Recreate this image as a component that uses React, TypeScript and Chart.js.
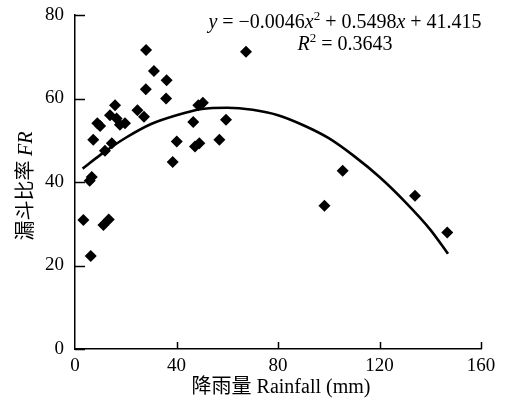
import React, { useEffect, useRef } from "react";
import { Chart, registerables } from "chart.js";

Chart.register(...registerables);

// Observed points: rainfall (mm) vs funnel ratio FR
const rainfall = [3.3, 6.2, 5.8, 6.6, 7.2, 8.8, 9.9, 11.2, 13.3, 11.8, 14.5, 13.8, 15.8, 16.4, 17.7, 19.7, 24.6, 27.2, 27.9, 28.0, 31.1, 35.9, 36.1, 38.5, 40.1, 46.6, 47.3, 49.0, 48.6, 50.4, 56.9, 59.5, 67.4, 98.3, 105.5, 134.0, 146.7];
const fr = [30.9, 22.3, 40.3, 41.2, 50.1, 54.1, 53.4, 29.7, 31.0, 47.5, 49.3, 56.0, 58.4, 55.2, 53.7, 54.1, 57.2, 55.6, 62.2, 71.6, 66.6, 60.0, 64.4, 44.8, 49.7, 54.4, 48.5, 49.3, 58.4, 59.0, 50.1, 54.9, 71.2, 34.3, 42.7, 36.7, 27.9];

// Trend curve
const trendX = [3, 10, 20, 30, 40, 50, 60, 70, 80, 90, 100, 110, 120, 130, 140, 147];
const trendY = [43.2, 46.5, 50.6, 53.9, 56.0, 57.5, 57.8, 57.3, 56.0, 53.6, 50.5, 46.2, 41.2, 35.3, 28.6, 22.8];

const xTicks = [0, 40, 80, 120, 160];
const yTicks = [0, 20, 40, 60, 80];

const xTitleCn = "降雨量";
const xTitleEn = " Rainfall (mm)";
const yTitleCn = "漏斗比率 ";
const yTitleEn = "FR";

const SERIF = '"Liberation Serif", "Times New Roman", serif';
const CJK = '"Noto Sans CJK SC", sans-serif';

type Seg = { t: string; italic?: boolean; sup?: boolean; cjk?: boolean };

const eqLine1: Seg[] = [
  { t: "y", italic: true },
  { t: " = −0.0046" },
  { t: "x", italic: true },
  { t: "2", sup: true },
  { t: " + 0.5498" },
  { t: "x", italic: true },
  { t: " + 41.415" },
];
const eqLine2: Seg[] = [
  { t: "R", italic: true },
  { t: "2", sup: true },
  { t: " = 0.3643" },
];

function segFont(s: Seg, size: number) {
  const sz = s.sup ? Math.round(size * 0.65) : size;
  if (s.cjk) return `${sz}px ${CJK}`;
  return `${s.italic ? "italic " : ""}${sz}px ${SERIF}`;
}

function drawSegs(ctx: CanvasRenderingContext2D, segs: Seg[], cx: number, baseline: number, size: number) {
  let total = 0;
  const widths = segs.map((s) => {
    ctx.font = segFont(s, size);
    const w = ctx.measureText(s.t).width;
    total += w;
    return w;
  });
  let x = cx - total / 2;
  segs.forEach((s, i) => {
    ctx.font = segFont(s, size);
    ctx.fillText(s.t, x, s.sup ? baseline - size * 0.4 : baseline);
    x += widths[i];
  });
}

const decor = {
  id: "decor",
  afterDraw(chart: any) {
    const ctx: CanvasRenderingContext2D = chart.ctx;
    const xs = chart.scales.x;
    const ys = chart.scales.y;
    const area = chart.chartArea;
    ctx.save();
    ctx.strokeStyle = "#000";
    ctx.lineWidth = 1.5;
    // inward tick marks
    xTicks.forEach((v) => {
      if (v === 0) return;
      const px = Math.round(xs.getPixelForValue(v)) + 0.5;
      ctx.beginPath();
      ctx.moveTo(px, area.bottom);
      ctx.lineTo(px, area.bottom - 7);
      ctx.stroke();
    });
    yTicks.forEach((v) => {
      const py = Math.round(ys.getPixelForValue(v)) + 0.5;
      ctx.beginPath();
      ctx.moveTo(area.left, py);
      ctx.lineTo(area.left + 10, py);
      ctx.stroke();
    });

    ctx.fillStyle = "#000";
    ctx.textAlign = "left";
    ctx.textBaseline = "alphabetic";
    // equation
    drawSegs(ctx, eqLine1, 345, 28, 20);
    drawSegs(ctx, eqLine2, 345, 50, 20);

    // x title
    drawSegs(ctx, [{ t: xTitleCn, cjk: true }, { t: xTitleEn }], (area.left + area.right) / 2 + 3, 393, 20);

    // y title (rotated)
    ctx.save();
    ctx.translate(32, (area.top + area.bottom) / 2 + 4);
    ctx.rotate(-Math.PI / 2);
    drawSegs(ctx, [{ t: yTitleCn, cjk: true }, { t: yTitleEn, italic: true }], 0, 0, 20);
    ctx.restore();
    ctx.restore();
  },
};

export default function App() {
  const ref = useRef<HTMLCanvasElement>(null);
  useEffect(() => {
    if (!ref.current) return;
    const points = rainfall.map((x, i) => ({ x, y: fr[i] }));
    const curve = trendX.map((x, i) => ({ x, y: trendY[i] }));
    const chart = new Chart(ref.current, {
      type: "scatter",
      data: {
        datasets: [
          {
            data: points,
            pointStyle: "rectRot",
            pointRadius: 6,
            backgroundColor: "#000",
            borderColor: "#000",
            borderWidth: 0,
            order: 1,
          } as any,
          {
            data: curve,
            showLine: true,
            borderColor: "#000",
            borderWidth: 2.6,
            pointRadius: 0,
            cubicInterpolationMode: "monotone",
            fill: false,
            order: 0,
          } as any,
        ],
      },
      options: {
        responsive: false,
        animation: false,
        devicePixelRatio: 1,
        layout: { padding: { left: 0, top: 15, right: 28, bottom: 0 } },
        plugins: { legend: { display: false }, tooltip: { enabled: false } },
        scales: {
          x: {
            type: "linear",
            min: 0,
            max: 160,
            afterBuildTicks: (s: any) => {
              s.ticks = xTicks.map((v) => ({ value: v }));
            },
            afterFit: (s: any) => {
              s.height = 56;
              s.paddingLeft = 0;
              s.paddingRight = 0;
            },
            grid: { display: false, drawTicks: false },
            border: { display: true, color: "#000", width: 1.5 },
            ticks: { color: "#000", font: { family: SERIF, size: 19 }, padding: 6, maxRotation: 0 },
          },
          y: {
            type: "linear",
            min: 0,
            max: 80,
            afterBuildTicks: (s: any) => {
              s.ticks = yTicks.map((v) => ({ value: v }));
            },
            afterFit: (s: any) => {
              s.width = 75;
              s.paddingTop = 0;
              s.paddingBottom = 0;
            },
            grid: { display: false, drawTicks: false },
            border: { display: true, color: "#000", width: 1.5 },
            ticks: { color: "#000", font: { family: SERIF, size: 19 }, padding: 11 },
          },
        },
      },
      plugins: [decor],
    });
    return () => chart.destroy();
  }, []);
  return (
    <div style={{ position: "absolute", left: 0, top: 0, width: 509, height: 405, background: "#fff" }}>
      <canvas ref={ref} width={509} height={405} />
    </div>
  );
}
